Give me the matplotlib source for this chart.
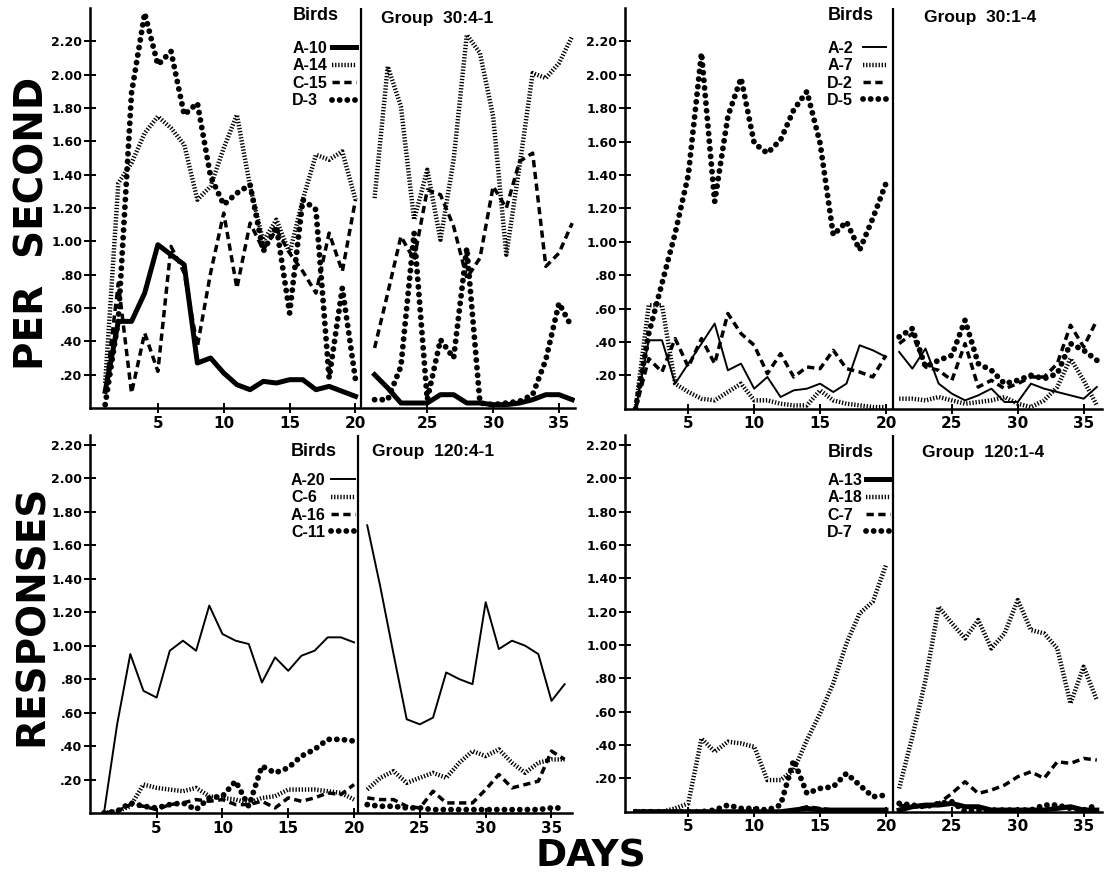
import matplotlib
matplotlib.use('Agg')
from matplotlib import pyplot as plt

# days 1-20 are left of the divider, 21-36 right of it
days_left = list(range(1, 21))
days_right = list(range(21, 37))

ytick_vals = [0.2, 0.4, 0.6, 0.8, 1.0, 1.2, 1.4, 1.6, 1.8, 2.0, 2.2]
ytick_labels = ['.20', '.40', '.60', '.80', '1.00', '1.20', '1.40', '1.60', '1.80', '2.00', '2.20']
xtick_days = [5, 10, 15, 20, 25, 30, 35]

# Group 30:4-1
a10 = [0.10, 0.52, 0.52, 0.69, 0.98, 0.92, 0.86, 0.27, 0.30, 0.21, 0.14, 0.11, 0.16, 0.15, 0.17, 0.17, 0.11, 0.13, 0.10, 0.07,
       0.20, 0.12, 0.03, 0.03, 0.03, 0.08, 0.08, 0.03, 0.03, 0.02, 0.02, 0.03, 0.05, 0.08, 0.08, 0.05]
a14 = [0.15, 1.35, 1.47, 1.65, 1.75, 1.68, 1.58, 1.25, 1.33, 1.56, 1.76, 1.33, 1.00, 1.13, 0.93, 1.25, 1.52, 1.49, 1.54, 1.25,
       1.26, 2.05, 1.81, 1.13, 1.43, 1.01, 1.49, 2.24, 2.13, 1.75, 0.92, 1.45, 2.01, 1.98, 2.07, 2.23]
c15 = [0.09, 0.75, 0.09, 0.45, 0.22, 0.97, 0.81, 0.37, 0.81, 1.17, 0.72, 1.11, 0.95, 1.07, 0.93, 0.82, 0.69, 1.05, 0.82, 1.25,
       0.36, 0.69, 1.03, 0.89, 1.31, 1.28, 1.09, 0.78, 0.90, 1.33, 1.20, 1.48, 1.53, 0.85, 0.93, 1.11]
d3 = [0.02, 0.53, 1.89, 2.37, 2.06, 2.14, 1.76, 1.83, 1.39, 1.22, 1.29, 1.34, 0.94, 1.09, 0.57, 1.25, 1.19, 0.18, 0.72, 0.17,
      0.05, 0.05, 0.25, 1.05, 0.05, 0.41, 0.30, 0.96, 0.03, 0.02, 0.03, 0.04, 0.08, 0.29, 0.63, 0.48]

# Group 30:1-4
a2 = [0.00, 0.41, 0.41, 0.15, 0.27, 0.39, 0.51, 0.23, 0.27, 0.12, 0.19, 0.07, 0.11, 0.12, 0.15, 0.10, 0.15, 0.38, 0.35, 0.31,
      0.34, 0.24, 0.36, 0.15, 0.09, 0.05, 0.08, 0.12, 0.04, 0.04, 0.15, 0.12, 0.10, 0.08, 0.06, 0.13]
a7 = [0.00, 0.62, 0.62, 0.15, 0.10, 0.06, 0.05, 0.10, 0.15, 0.05, 0.05, 0.03, 0.02, 0.02, 0.11, 0.05, 0.03, 0.02, 0.01, 0.01,
      0.06, 0.06, 0.05, 0.07, 0.05, 0.03, 0.04, 0.05, 0.07, 0.03, 0.01, 0.05, 0.13, 0.30, 0.17, 0.02]
d2 = [0.00, 0.30, 0.22, 0.42, 0.25, 0.42, 0.27, 0.57, 0.45, 0.38, 0.21, 0.33, 0.19, 0.25, 0.24, 0.35, 0.24, 0.22, 0.19, 0.32,
      0.39, 0.45, 0.25, 0.23, 0.17, 0.39, 0.13, 0.17, 0.12, 0.15, 0.19, 0.19, 0.27, 0.50, 0.37, 0.53]
d5 = [0.00, 0.45, 0.75, 1.05, 1.40, 2.13, 1.24, 1.75, 1.98, 1.59, 1.53, 1.61, 1.79, 1.90, 1.59, 1.04, 1.12, 0.95, 1.14, 1.35,
      0.43, 0.48, 0.25, 0.29, 0.32, 0.53, 0.27, 0.23, 0.15, 0.17, 0.20, 0.18, 0.21, 0.39, 0.35, 0.29]

# Group 120:4-1
a20 = [0.00, 0.53, 0.95, 0.73, 0.69, 0.97, 1.03, 0.97, 1.24, 1.07, 1.03, 1.01, 0.78, 0.93, 0.85, 0.94, 0.97, 1.05, 1.05, 1.02,
       1.72, 1.35, 0.95, 0.56, 0.53, 0.57, 0.84, 0.80, 0.77, 1.26, 0.98, 1.03, 1.00, 0.95, 0.67, 0.77]
c6 = [0.00, 0.01, 0.04, 0.17, 0.15, 0.14, 0.13, 0.15, 0.10, 0.09, 0.08, 0.06, 0.09, 0.10, 0.14, 0.14, 0.14, 0.13, 0.12, 0.08,
      0.14, 0.21, 0.25, 0.18, 0.21, 0.24, 0.21, 0.30, 0.37, 0.34, 0.38, 0.30, 0.24, 0.30, 0.32, 0.32]
a16 = [0.00, 0.01, 0.05, 0.04, 0.02, 0.05, 0.06, 0.08, 0.07, 0.08, 0.05, 0.05, 0.07, 0.03, 0.09, 0.07, 0.09, 0.12, 0.11, 0.17,
       0.09, 0.08, 0.08, 0.04, 0.03, 0.13, 0.06, 0.06, 0.06, 0.14, 0.23, 0.15, 0.17, 0.19, 0.37, 0.32]
c11 = [0.00, 0.01, 0.06, 0.04, 0.03, 0.05, 0.06, 0.02, 0.09, 0.10, 0.19, 0.04, 0.28, 0.24, 0.27, 0.34, 0.38, 0.44, 0.44, 0.43,
       0.05, 0.04, 0.04, 0.03, 0.03, 0.02, 0.02, 0.02, 0.02, 0.02, 0.02, 0.02, 0.02, 0.02, 0.03, 0.03]

# Group 120:1-4
a13 = [0.00, 0.00, 0.00, 0.00, 0.00, 0.00, 0.00, 0.00, 0.00, 0.00, 0.00, 0.00, 0.01, 0.02, 0.01, 0.01, 0.01, 0.01, 0.01, 0.01,
       0.01, 0.03, 0.04, 0.04, 0.05, 0.03, 0.03, 0.01, 0.01, 0.01, 0.01, 0.01, 0.02, 0.03, 0.01, 0.01]
a18 = [0.00, 0.00, 0.00, 0.02, 0.05, 0.44, 0.36, 0.42, 0.41, 0.39, 0.19, 0.19, 0.25, 0.43, 0.59, 0.77, 1.01, 1.19, 1.26, 1.48,
       0.14, 0.45, 0.79, 1.23, 1.13, 1.04, 1.15, 0.98, 1.07, 1.27, 1.09, 1.07, 0.98, 0.65, 0.87, 0.67]
c7 = [0.00, 0.00, 0.00, 0.00, 0.00, 0.00, 0.00, 0.00, 0.00, 0.00, 0.00, 0.00, 0.01, 0.03, 0.02, 0.01, 0.01, 0.01, 0.01, 0.01,
      0.04, 0.03, 0.03, 0.05, 0.11, 0.18, 0.11, 0.13, 0.16, 0.21, 0.24, 0.20, 0.30, 0.29, 0.32, 0.31]
d7 = [0.00, 0.00, 0.00, 0.00, 0.00, 0.00, 0.01, 0.04, 0.02, 0.02, 0.01, 0.04, 0.31, 0.11, 0.14, 0.15, 0.23, 0.16, 0.09, 0.10,
      0.05, 0.04, 0.03, 0.05, 0.06, 0.00, 0.01, 0.01, 0.01, 0.01, 0.01, 0.04, 0.04, 0.02, 0.01, 0.04]

styles = {
    'thick': dict(lw=3.6, ls='-'),
    'thin': dict(lw=1.4, ls='-'),
    'fine': dict(lw=3.2, ls=(0, (0.3, 0.4))),
    'dash': dict(lw=2.5, ls=(0, (2.1, 1.3))),
    'dots': dict(lw=4.2, ls=(0, (0.01, 1.3)), dash_capstyle='round'),
}

# narrower bold lettering for the keys and group names
label_font = dict(family='Liberation Sans', weight='bold', size=11.5)

panels = [
    dict(rect=[0.0811, 0.5337, 0.437, 0.457], xlim=(-0.15, 36.67), ylim=(0, 2.40), shift=0.45, divider=20.4,
         names=['A-10', 'A-14', 'C-15', 'D-3'], series=[a10, a14, c15, d3],
         kinds=['thick', 'fine', 'dash', 'dots'], group='Group  30:4-1',
         birds_xy=(0.417, 0.982), key_top=0.918, key_right=0.548, group_xy=(0.600, 0.975)),
    dict(rect=[0.563, 0.5329, 0.430, 0.458], xlim=(0.19, 36.41), ylim=(0, 2.40), shift=0.0, divider=20.54,
         names=['A-2', 'A-7', 'D-2', 'D-5'], series=[a2, a7, d2, d5],
         kinds=['thin', 'fine', 'dash', 'dots'], group='Group  30:1-4',
         birds_xy=(0.424, 0.982), key_top=0.918, key_right=0.548, group_xy=(0.627, 0.975)),
    dict(rect=[0.0811, 0.0709, 0.434, 0.432], xlim=(-0.06, 36.54), ylim=(0, 2.26), shift=0.0, divider=20.3,
         names=['A-20', 'C-6', 'A-16', 'C-11'], series=[a20, c6, a16, c11],
         kinds=['thin', 'fine', 'dash', 'dots'], group='Group  120:4-1',
         birds_xy=(0.417, 0.955), key_top=0.9, key_right=0.55, group_xy=(0.585, 0.955)),
    dict(rect=[0.563, 0.0723, 0.430, 0.4305], xlim=(0.19, 36.41), ylim=(0, 2.26), shift=0.0, divider=20.5,
         names=['A-13', 'A-18', 'C-7', 'D-7'], series=[a13, a18, c7, d7],
         kinds=['thick', 'fine', 'dash', 'dots'], group='Group  120:1-4',
         birds_xy=(0.424, 0.955), key_top=0.9, key_right=0.556, group_xy=(0.623, 0.955)),
]

fig = plt.figure(figsize=(11.1, 8.75), dpi=100)

for p in panels:
    ax = fig.add_axes(p['rect'])
    sh = p['shift']
    handles = []
    for name, vals, kind in zip(p['names'], p['series'], p['kinds']):
        h, = ax.plot(days_left, vals[:20], color='black', label=name, **styles[kind])
        ax.plot([d + sh for d in days_right], vals[20:], color='black', **styles[kind])
        handles.append(h)
    ax.axvline(p['divider'], color='black', lw=1.6)

    ax.set_xlim(*p['xlim'])
    ax.set_ylim(*p['ylim'])
    ax.set_yticks(ytick_vals)
    ax.set_yticklabels(ytick_labels, fontsize=9, fontweight='bold')
    ax.set_xticks([d if d <= 20 else d + sh for d in xtick_days])
    ax.set_xticklabels([str(d) for d in xtick_days], fontsize=11, fontweight='bold')
    ax.tick_params(axis='y', direction='inout', length=9, width=1.4, pad=1)
    ax.tick_params(axis='x', direction='inout', length=7, width=1.4, pad=2)
    for s in ['top', 'right']:
        ax.spines[s].set_visible(False)
    for s in ['left', 'bottom']:
        ax.spines[s].set_linewidth(1.8)

    ax.text(p['birds_xy'][0], p['birds_xy'][1], 'Birds', transform=ax.transAxes,
            fontproperties=dict(label_font, size=13), va='center', ha='left')
    ax.text(p['group_xy'][0], p['group_xy'][1], p['group'], transform=ax.transAxes,
            fontproperties=dict(label_font, size=12.5), va='center', ha='left')

    # key: names left-aligned under "Birds", line samples in their own column
    common = dict(frameon=False, labelspacing=0.15, borderpad=0, borderaxespad=0, prop=label_font)
    names_key = ax.legend(handles, p['names'], loc='upper left',
                          bbox_to_anchor=(p['birds_xy'][0], p['key_top']),
                          handlelength=0, handletextpad=0, **common)
    for h in names_key.legend_handles:
        h.set_visible(False)
    ax.add_artist(names_key)
    ax.legend(handles, ['' for _ in handles], loc='upper right',
              bbox_to_anchor=(p['key_right'], p['key_top']), markerfirst=False,
              handlelength=1.5, handletextpad=0, **common)

big = dict(fontsize=28, fontweight='bold', family='DejaVu Sans', rotation=90, ha='center', va='center')
fig.text(0.029, 0.745, 'PER  SECOND', **big)
fig.text(0.029, 0.297, 'RESPONSES', **big)
fig.text(0.532, 0.021, 'DAYS', fontsize=27, fontweight='bold', family='DejaVu Sans', ha='center', va='center')

fig.savefig('out.png', dpi=100)
